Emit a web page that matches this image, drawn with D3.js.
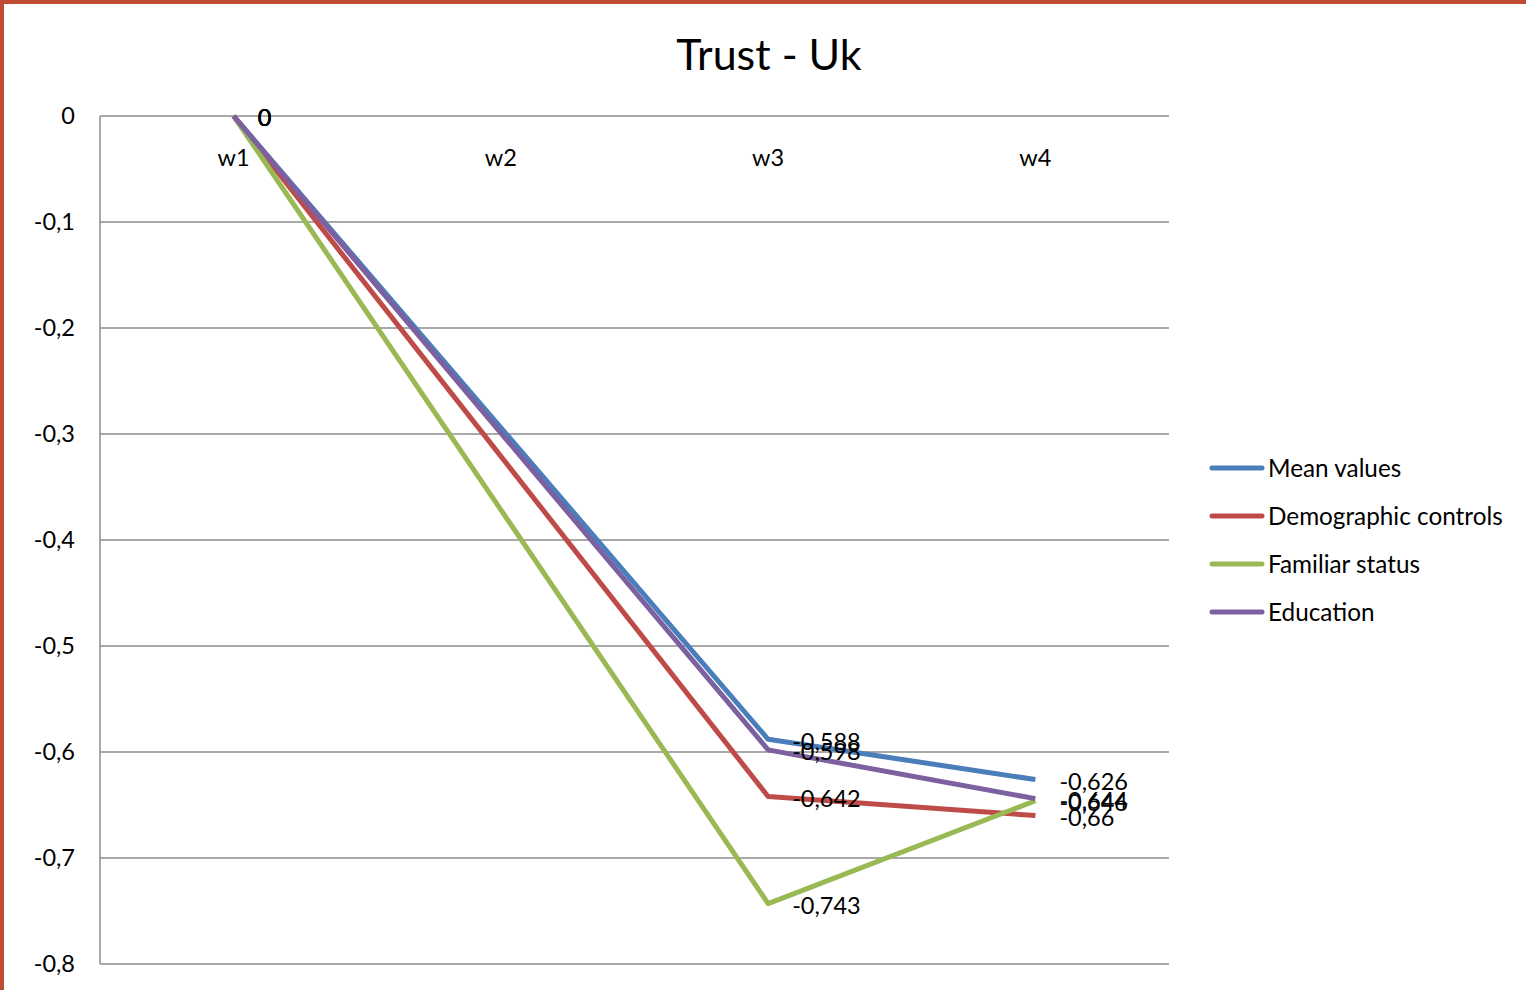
<!DOCTYPE html>
<html><head><meta charset="utf-8">
<script src="https://cdn.jsdelivr.net/npm/d3@7"></script>
<style>html,body{margin:0;padding:0;background:#fff;}svg{display:block;}</style>
</head><body>
<svg id="chart" width="1526" height="990"></svg>
<script>
const categories = ["w1", "w2", "w3", "w4"];
const seriesNames = ["Mean values", "Demographic controls", "Familiar status", "Education"];
const meanValues = [0, null, -0.588, -0.626];
const demographicControls = [0, null, -0.642, -0.66];
const familiarStatus = [0, null, -0.743, -0.646];
const education = [0, null, -0.598, -0.644];
const seriesColors = ["#4a7ebb", "#be4b48", "#98b954", "#7d60a0"];
const yTicks = [0, -0.1, -0.2, -0.3, -0.4, -0.5, -0.6, -0.7, -0.8];
const title = "Trust - Uk";

const series = [meanValues, demographicControls, familiarStatus, education].map((v, i) => ({
  name: seriesNames[i], color: seriesColors[i],
  points: v.map((y, j) => ({ cat: categories[j], y })).filter(p => p.y != null)
}));

const FONT = "Lato, 'Open Sans', sans-serif";
const svg = d3.select("#chart");
const loc = d3.formatLocale({ decimal: ",", thousands: ".", grouping: [3], currency: ["", ""], minus: "-" });
const fmtVal = loc.format(".3~f");
const fmtTick = loc.format(".1~f");

const x = d3.scaleBand().domain(categories).range([100, 1169]);
const y = d3.scaleLinear().domain([-0.8, 0]).range([964, 116]);
const cx = c => x(c) + x.bandwidth() / 2;

// border
svg.append("rect").attr("x", 0).attr("y", 0).attr("width", 1526).attr("height", 4).attr("fill", "#be4b32");
svg.append("rect").attr("x", 0).attr("y", 0).attr("width", 4).attr("height", 990).attr("fill", "#be4b32");

// title
svg.append("text").attr("x", 769).attr("y", 70).attr("text-anchor", "middle")
  .attr("font-family", FONT).attr("font-size", 43).attr("fill", "#000").text(title);

// gridlines
svg.append("g").selectAll("line").data(yTicks).join("line")
  .attr("x1", 100).attr("x2", 1169).attr("y1", d => y(d)).attr("y2", d => y(d))
  .attr("stroke", "#8c8c8c").attr("stroke-width", 1.5);
// y axis line
svg.append("line").attr("x1", 100).attr("x2", 100).attr("y1", y(0)).attr("y2", y(-0.8))
  .attr("stroke", "#8c8c8c").attr("stroke-width", 1.5);

// y tick labels
svg.append("g").selectAll("text").data(yTicks).join("text")
  .attr("x", 75).attr("y", d => y(d)).attr("dy", "0.35em").attr("text-anchor", "end")
  .attr("font-family", FONT).attr("font-size", 23.5).attr("fill", "#000").text(d => fmtTick(d));

// category labels
svg.append("g").selectAll("text").data(categories).join("text")
  .attr("x", d => cx(d)).attr("y", 158).attr("dy", "0.35em").attr("text-anchor", "middle")
  .attr("font-family", FONT).attr("font-size", 23.5).attr("fill", "#000").text(d => d);

// lines
const line = d3.line().x(d => cx(d.cat)).y(d => y(d.y));
svg.append("g").selectAll("path").data(series).join("path")
  .attr("d", d => line(d.points)).attr("fill", "none").attr("stroke", d => d.color)
  .attr("stroke-width", 5).attr("stroke-linejoin", "round");

// data labels
const lg = svg.append("g");
series.forEach(s => {
  lg.selectAll(null).data(s.points).join("text")
    .attr("x", d => cx(d.cat) + 24).attr("y", d => y(d.y) + 2).attr("dy", "0.35em")
    .attr("font-family", FONT).attr("font-size", 23.5).attr("fill", "#000").text(d => fmtVal(d.y));
});

// legend
const leg = svg.append("g").selectAll("g").data(series).join("g")
  .attr("transform", (d, i) => `translate(1210, ${468 + i * 48})`);
leg.append("line").attr("x1", 2).attr("x2", 52).attr("stroke", d => d.color)
  .attr("stroke-width", 5).attr("stroke-linecap", "round");
leg.append("text").attr("x", 58).attr("dy", "0.35em").attr("font-family", FONT)
  .attr("font-size", 24.3).attr("fill", "#000").text(d => d.name);
</script>
</body></html>
